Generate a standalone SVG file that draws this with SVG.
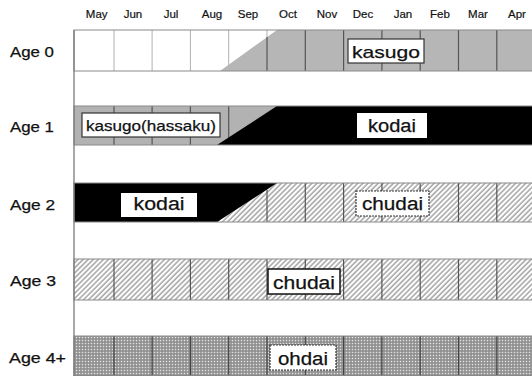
<svg xmlns="http://www.w3.org/2000/svg" width="532" height="376" viewBox="0 0 532 376">
<defs>
<pattern id="hatch" width="3.6" height="3.6" patternUnits="userSpaceOnUse" patternTransform="rotate(45)">
<rect width="3.6" height="3.6" fill="#ffffff"/>
<line x1="1" y1="0" x2="1" y2="3.6" stroke="#8c8c8c" stroke-width="1.2"/>
</pattern>
<pattern id="dots" width="3" height="3" patternUnits="userSpaceOnUse">
<rect width="3" height="3" fill="#8c8c8c"/>
<rect x="0.75" y="0.75" width="1.5" height="1.5" fill="#e2e2e2"/>
</pattern>
<style>
.mon{font-family:"Liberation Sans",Arial,sans-serif;font-size:11.5px;fill:#111;text-anchor:middle;stroke:#111;stroke-width:0.2}
.age{font-family:"Liberation Sans",Arial,sans-serif;font-size:14.5px;fill:#111;stroke:#111;stroke-width:0.25}
.lbl{font-family:"Liberation Sans",Arial,sans-serif;font-size:17px;fill:#111;text-anchor:middle;stroke:#111;stroke-width:0.25}
.box{fill:#ffffff;stroke:#333;stroke-width:1.2}
.rowedge{fill:none;stroke:#8a8a8a;stroke-width:1}
.dl{stroke:#b0b0b0;stroke-width:1}
.dd{stroke:#555;stroke-width:1.2}
</style>
</defs>

<g id="months">
<text class="mon" x="96.7" y="18">May</text>
<text class="mon" x="133" y="18">Jun</text>
<text class="mon" x="171" y="18">Jul</text>
<text class="mon" x="212" y="18">Aug</text>
<text class="mon" x="248" y="18">Sep</text>
<text class="mon" x="288" y="18">Oct</text>
<text class="mon" x="327" y="18">Nov</text>
<text class="mon" x="363" y="18">Dec</text>
<text class="mon" x="403" y="18">Jan</text>
<text class="mon" x="440" y="18">Feb</text>
<text class="mon" x="478" y="18">Mar</text>
<text class="mon" x="517" y="18">Apr</text>
</g>

<g id="age-labels">
<text class="age" x="10" y="57" textLength="44" lengthAdjust="spacingAndGlyphs">Age 0</text>
<text class="age" x="10" y="132" textLength="44" lengthAdjust="spacingAndGlyphs">Age 1</text>
<text class="age" x="10" y="209.5" textLength="45" lengthAdjust="spacingAndGlyphs">Age 2</text>
<text class="age" x="10" y="286" textLength="46" lengthAdjust="spacingAndGlyphs">Age 3</text>
<text class="age" x="9" y="362.5" textLength="57" lengthAdjust="spacingAndGlyphs">Age 4+</text>
</g>

<g id="row-age0">
<rect x="74" y="30" width="458" height="41" fill="#ffffff"/>
<g class="dl">
<line x1="114" y1="30" x2="114" y2="71"/>
<line x1="152.1" y1="30" x2="152.1" y2="71"/>
<line x1="190.4" y1="30" x2="190.4" y2="71"/>
<line x1="228.7" y1="30" x2="228.7" y2="71"/>
<line x1="267" y1="30" x2="267" y2="71"/>
</g>
<polygon points="220,71 277,30 532,30 532,71" fill="#b6b6b6"/>
<g class="dd">
<line x1="267" y1="37" x2="267" y2="71"/>
<line x1="305.3" y1="30" x2="305.3" y2="71"/>
<line x1="343.6" y1="30" x2="343.6" y2="71"/>
<line x1="381.9" y1="30" x2="381.9" y2="71"/>
<line x1="420.2" y1="30" x2="420.2" y2="71"/>
<line x1="458.5" y1="30" x2="458.5" y2="71"/>
<line x1="496.8" y1="30" x2="496.8" y2="71"/>
</g>
<rect class="rowedge" x="74" y="30" width="460" height="41"/>
<rect class="box" x="348" y="39" width="76" height="24"/>
<text class="lbl" x="386" y="57.5" textLength="68" lengthAdjust="spacingAndGlyphs">kasugo</text>
</g>

<g id="row-age1">
<rect x="74" y="106" width="458" height="39" fill="#b2b2b2"/>
<g class="dd">
<line x1="114" y1="106" x2="114" y2="145"/>
<line x1="152.1" y1="106" x2="152.1" y2="145"/>
<line x1="190.4" y1="106" x2="190.4" y2="145"/>
<line x1="228.7" y1="106" x2="228.7" y2="145"/>
</g>
<polygon points="217,145 277,106 532,106 532,145" fill="#000000"/>
<rect class="rowedge" x="74" y="106" width="460" height="39"/>
<rect class="box" x="82" y="113" width="138" height="24"/>
<text class="lbl" x="86" y="130.5" style="text-anchor:start;font-size:15.5px" textLength="130" lengthAdjust="spacingAndGlyphs">kasugo(hassaku)</text>
<rect x="357" y="113" width="70" height="25" fill="#ffffff"/>
<text class="lbl" x="392" y="132" style="font-size:18px" textLength="48" lengthAdjust="spacingAndGlyphs">kodai</text>
</g>

<g id="row-age2">
<rect x="74" y="183" width="458" height="39" fill="url(#hatch)"/>
<g class="dd">
<line x1="267" y1="189.5" x2="267" y2="222"/>
<line x1="305.3" y1="183" x2="305.3" y2="222"/>
<line x1="343.6" y1="183" x2="343.6" y2="222"/>
<line x1="381.9" y1="183" x2="381.9" y2="222"/>
<line x1="420.2" y1="183" x2="420.2" y2="222"/>
<line x1="458.5" y1="183" x2="458.5" y2="222"/>
<line x1="496.8" y1="183" x2="496.8" y2="222"/>
</g>
<polygon points="74,183 277,183 217,222 74,222" fill="#000000"/>
<rect class="rowedge" x="74" y="183" width="460" height="39"/>
<rect x="121" y="193" width="76" height="24" fill="#ffffff"/>
<text class="lbl" x="159" y="210" style="font-size:18px" textLength="51" lengthAdjust="spacingAndGlyphs">kodai</text>
<rect class="box" x="356" y="191" width="73" height="25" stroke-dasharray="2 1"/>
<text class="lbl" x="392.5" y="210" style="font-size:18px" textLength="61" lengthAdjust="spacingAndGlyphs">chudai</text>
</g>

<g id="row-age3">
<rect x="74" y="259" width="458" height="41" fill="url(#hatch)"/>
<g class="dd">
<line x1="114" y1="259" x2="114" y2="300"/>
<line x1="152.1" y1="259" x2="152.1" y2="300"/>
<line x1="190.4" y1="259" x2="190.4" y2="300"/>
<line x1="228.7" y1="259" x2="228.7" y2="300"/>
<line x1="267" y1="259" x2="267" y2="300"/>
<line x1="305.3" y1="259" x2="305.3" y2="300"/>
<line x1="343.6" y1="259" x2="343.6" y2="300"/>
<line x1="381.9" y1="259" x2="381.9" y2="300"/>
<line x1="420.2" y1="259" x2="420.2" y2="300"/>
<line x1="458.5" y1="259" x2="458.5" y2="300"/>
<line x1="496.8" y1="259" x2="496.8" y2="300"/>
</g>
<rect class="rowedge" x="74" y="259" width="460" height="41"/>
<rect class="box" x="268" y="269" width="72" height="25" style="stroke:#111;stroke-width:1.5"/>
<text class="lbl" x="304" y="289" style="font-size:18px" textLength="62" lengthAdjust="spacingAndGlyphs">chudai</text>
</g>

<g id="row-age4">
<rect x="74" y="336" width="458" height="40" fill="url(#dots)"/>
<g class="dd" style="stroke:#444">
<line x1="114" y1="336" x2="114" y2="376"/>
<line x1="152.1" y1="336" x2="152.1" y2="376"/>
<line x1="190.4" y1="336" x2="190.4" y2="376"/>
<line x1="228.7" y1="336" x2="228.7" y2="376"/>
<line x1="267" y1="336" x2="267" y2="376"/>
<line x1="305.3" y1="336" x2="305.3" y2="376"/>
<line x1="343.6" y1="336" x2="343.6" y2="376"/>
<line x1="381.9" y1="336" x2="381.9" y2="376"/>
<line x1="420.2" y1="336" x2="420.2" y2="376"/>
<line x1="458.5" y1="336" x2="458.5" y2="376"/>
<line x1="496.8" y1="336" x2="496.8" y2="376"/>
</g>
<rect class="rowedge" x="74" y="336" width="460" height="39.5"/>
<rect class="box" x="270" y="345" width="66" height="25" stroke-dasharray="2 1"/>
<text class="lbl" x="303" y="365" style="font-size:18px" textLength="50" lengthAdjust="spacingAndGlyphs">ohdai</text>
</g>

<g id="axis">
<line x1="74" y1="30" x2="74" y2="376" stroke="#7a7a7a" stroke-width="1.3"/>
</g>
</svg>
